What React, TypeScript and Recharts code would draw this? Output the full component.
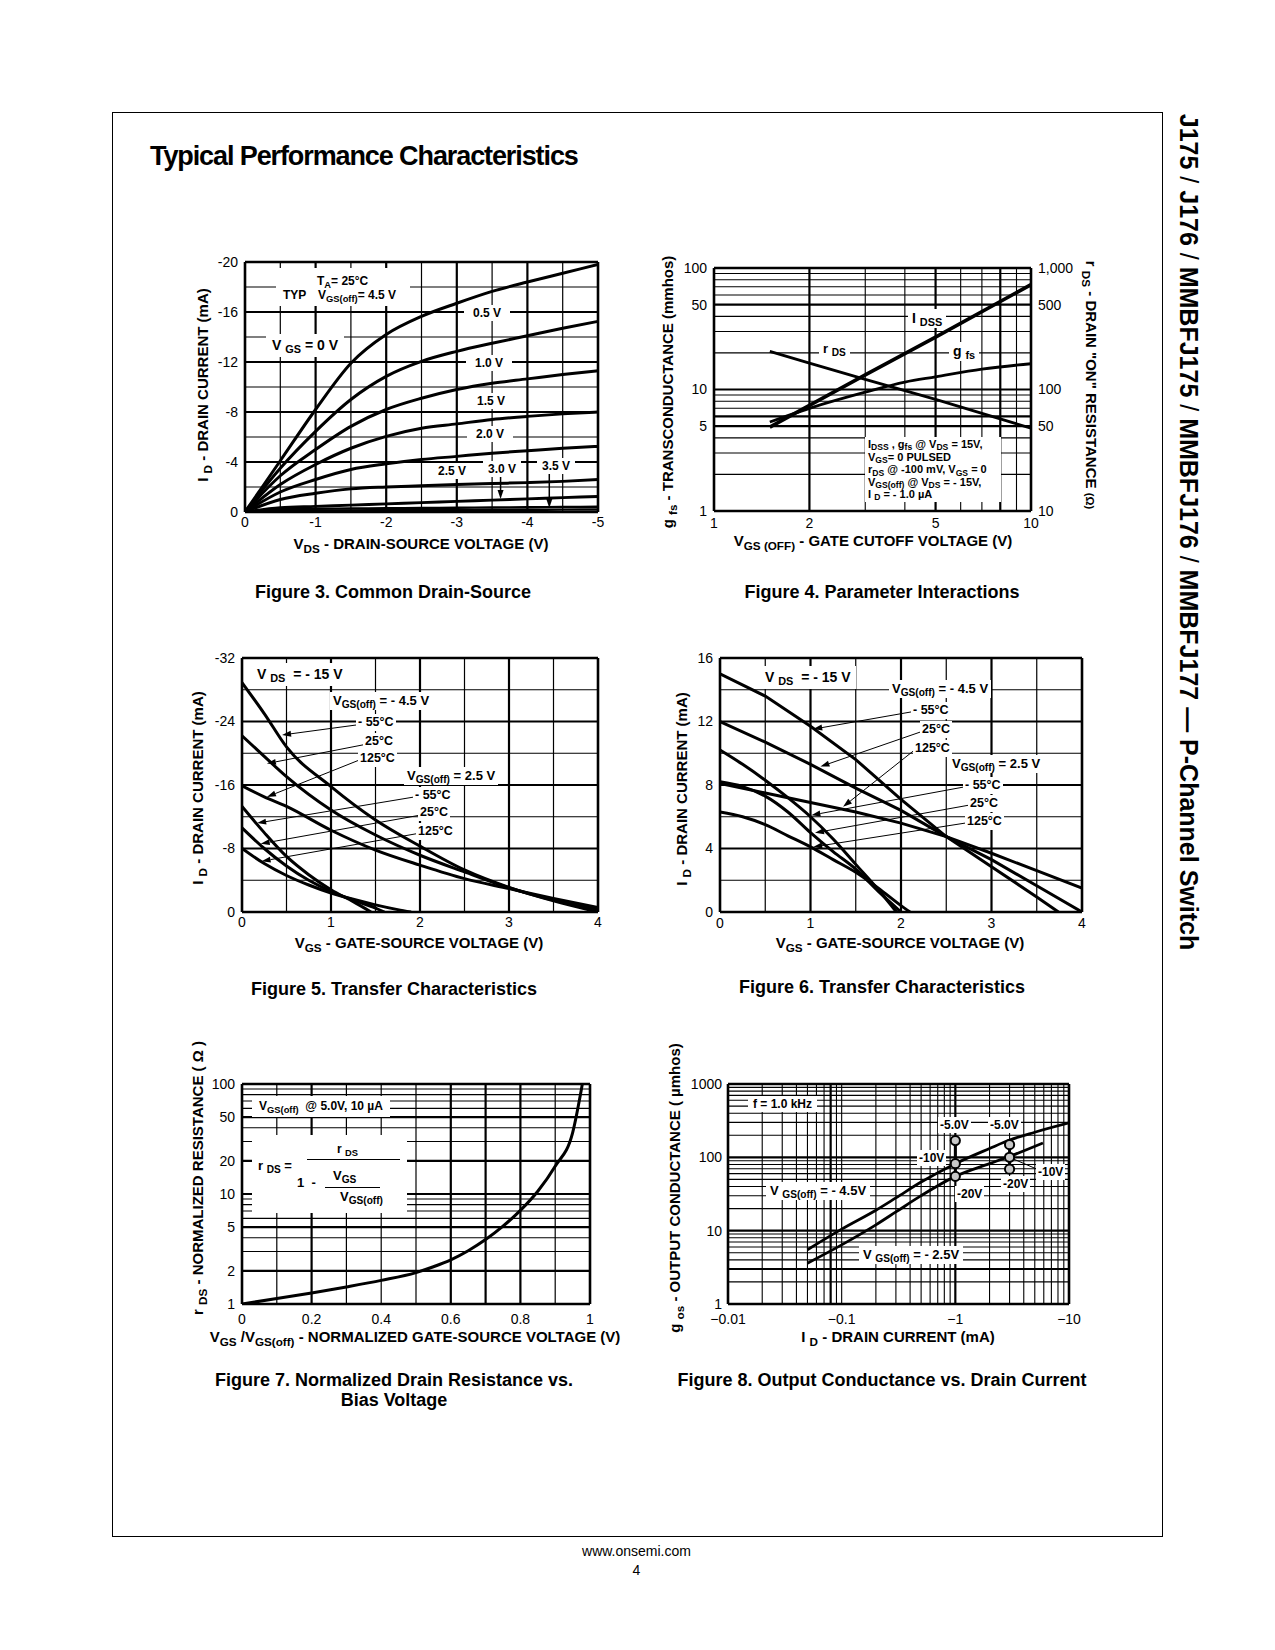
import React from 'react';
import { LineChart, Line, XAxis, YAxis, ReferenceLine } from 'recharts';

const FONT = '"Liberation Sans", Arial, Helvetica, sans-serif';

// Figure 3 - drain current vs drain-source voltage, one curve per V_GS
const f3Vds = [0, -0.5, -1, -1.5, -2, -2.5, -3, -3.5, -4, -4.5, -5];
const f3Vgs00 = [0, -4.1, -8.2, -11.9, -14.2, -15.65, -16.7, -17.65, -18.4, -19.1, -19.8];
const f3Vgs05 = [0, -3.5, -6.45, -9.0, -10.85, -12.05, -12.85, -13.5, -14.1, -14.7, -15.25];
const f3Vgs10 = [0, -2.9, -5.0, -6.85, -8.2, -9.1, -9.8, -10.3, -10.65, -11.0, -11.3];
const f3Vgs15 = [0, -2.2, -3.8, -5.1, -6.05, -6.7, -7.05, -7.4, -7.65, -7.85, -8.0];
const f3Vgs20 = [0, -1.6, -2.6, -3.4, -3.85, -4.2, -4.45, -4.7, -4.9, -5.1, -5.25];
const f3Vgs25 = [0, -1.0, -1.5, -1.85, -2.0, -2.1, -2.2, -2.28, -2.35, -2.45, -2.6];
const f3Vgs30 = [0, -0.35, -0.45, -0.55, -0.65, -0.75, -0.85, -0.95, -1.05, -1.15, -1.25];
const f3Vgs35 = [0, -0.22, -0.26, -0.28, -0.3, -0.32, -0.34, -0.36, -0.38, -0.4, -0.42];
const f3Vgs40 = [0, -0.1, -0.12, -0.13, -0.14, -0.15, -0.16, -0.17, -0.18, -0.19, -0.2];
const f3ArrowFrom = [[-3.62, -2.85], [-4.31, -3.25]];
const f3ArrowTo = [[-3.62, -1.04], [-4.31, -0.32]];

// Figure 4 - parameter interactions vs V_GS(off)
const f4VoffA = [1.5, 2, 3, 5, 10];
const f4Idss = [4.9, 7.4, 13.2, 27, 73];
const f4Rds = [206, 165, 121, 83, 48];
const f4VoffB = [1.5, 2, 3, 4, 5, 7, 10];
const f4Gfs = [5.4, 7.0, 9.5, 11.5, 12.7, 14.7, 16.3];

// Figure 5 - transfer characteristics (negative currents)
const f5XA = [0, 0.25, 0.5, 1, 1.5, 2, 2.5, 3, 3.5, 4];
const f5M55a = [-28.9, -25.0, -20.8, -15.8, -11.6, -8.3, -5.3, -3.1, -1.4, 0];
const f5P25a = [-22.2, -19.6, -17.05, -12.85, -9.7, -7.15, -5.05, -3.05, -1.5, -0.3];
const f5P125a = [-15.9, -14.5, -13.3, -10.3, -7.8, -5.9, -4.2, -2.95, -1.7, -0.55];
const f5XM55b = [0, 0.25, 0.5, 0.75, 1, 1.25, 1.45];
const f5M55b = [-13.3, -10.0, -7.0, -4.7, -2.8, -1.3, 0];
const f5XP25b = [0, 0.25, 0.5, 0.75, 1, 1.25, 1.5, 1.6];
const f5P25b = [-10.6, -8.0, -5.8, -4.0, -2.6, -1.5, -0.5, 0];
const f5XP125b = [0, 0.25, 0.5, 0.75, 1, 1.25, 1.5, 1.75, 1.9];
const f5P125b = [-8.0, -6.1, -4.6, -3.4, -2.4, -1.6, -0.9, -0.3, 0];
const f5ArrowFrom = [[1.31, -23.6], [1.38, -21.1], [1.33, -19.2], [1.94, -14.5], [2.0, -12.2], [1.98, -9.9]];
const f5ArrowTo = [[0.45, -22.3], [0.28, -18.7], [0.28, -14.5], [0.17, -11.2], [0.21, -8.6], [0.22, -6.4]];

// Figure 6 - transfer characteristics (positive currents)
const f6XM55a = [0, 0.5, 1, 1.5, 2, 2.5, 3, 3.5, 3.74];
const f6M55a = [15, 13.6, 11.7, 9.6, 7.1, 4.75, 2.85, 0.95, 0];
const f6XA = [0, 0.5, 1, 1.5, 2, 2.5, 3, 3.5, 4];
const f6P25a = [12, 10.7, 9.3, 7.8, 6.4, 4.75, 3.3, 1.65, 0];
const f6P125a = [8.1, 7.5, 6.9, 6.3, 5.6, 4.75, 3.7, 2.6, 1.5];
const f6XM55b = [0, 0.25, 0.5, 0.75, 1, 1.25, 1.5, 1.75, 1.95];
const f6M55b = [10.2, 9.3, 8.3, 7.2, 6.0, 4.6, 3.0, 1.4, 0];
const f6XP25b = [0, 0.25, 0.5, 0.75, 1, 1.25, 1.5, 1.75, 2.0];
const f6P25b = [8.2, 7.9, 7.3, 6.3, 5.0, 3.8, 2.7, 1.3, 0];
const f6XP125b = [0, 0.25, 0.5, 0.75, 1, 1.25, 1.5, 1.75, 2.0, 2.1];
const f6P125b = [6.3, 6.0, 5.5, 4.8, 4.1, 3.3, 2.5, 1.5, 0.4, 0];
const f6ArrowFrom = [[2.14, 12.63], [2.23, 11.37], [2.16, 10.25], [2.71, 7.89], [2.76, 6.74], [2.73, 5.62]];
const f6ArrowTo = [[1.03, 11.52], [1.11, 9.16], [1.36, 6.63], [1.01, 6.1], [1.05, 4.99], [1.03, 4.1]];

// Figure 7 - normalized drain resistance
const f7Ratio = [0, 0.1, 0.2, 0.3, 0.4, 0.5, 0.55, 0.6, 0.65, 0.7, 0.75, 0.8, 0.85, 0.9, 0.95, 0.978];
const f7Rds = [1, 1.12, 1.26, 1.43, 1.64, 1.93, 2.18, 2.52, 3.05, 3.85, 5.1, 7.1, 10.6, 17.9, 36, 100];

// Figure 8 - output conductance vs drain current (magnitudes, mA)
const f8IdA = [0.05, 0.1, 0.2, 0.3, 0.5, 1, 2, 3, 5, 10];
const f8Gos45 = [5.5, 10.5, 19, 28, 46, 82, 132, 172, 220, 295];
const f8IdB = [0.05, 0.1, 0.2, 0.3, 0.5, 1, 2, 3, 5.9];
const f8Gos25 = [3.6, 6.4, 12, 18, 30, 55, 82, 103, 157];
const f8MarkAt1 = [169, 82, 55];
const f8MarkAt3 = [149, 100, 69];
const f8Leader = [[3, 100], [5.34, 68]];

const pts = (xs: number[], ys: number[]) => xs.map((x, i) => ({ x, y: ys[i] }));

const tick = { fontSize: 14, fill: '#000', fontFamily: FONT };
const PL = 50, PT = 12, PR = 50, PB = 30;

type Box = { x0: number; y0: number; x1: number; y1: number };
const b3: Box = { x0: 245, y0: 262, x1: 598, y1: 512 };
const b4: Box = { x0: 714, y0: 268, x1: 1031, y1: 511 };
const b5: Box = { x0: 242, y0: 658, x1: 598, y1: 912 };
const b6: Box = { x0: 720, y0: 658, x1: 1082, y1: 912 };
const b7: Box = { x0: 242, y0: 1084, x1: 590, y1: 1304 };
const b8: Box = { x0: 728, y0: 1084, x1: 1069, y1: 1304 };

function Frame({ b, right = false, children }: { b: Box; right?: boolean; children: React.ReactNode }) {
  return (
    <div style={{ position: 'absolute', left: b.x0 - PL, top: b.y0 - PT }}>
      <LineChart
        width={b.x1 - b.x0 + PL + PR}
        height={b.y1 - b.y0 + PT + PB}
        margin={{ top: PT, right: right ? 0 : PR, bottom: 0, left: 0 }}
      >
        {children}
      </LineChart>
    </div>
  );
}

const vLines = (vals: number[], w: number) =>
  vals.map(v => <ReferenceLine key={`gx${v}`} x={v} stroke="#000" strokeWidth={w} />);
const hLines = (vals: number[], w: number) =>
  vals.map(v => <ReferenceLine key={`gy${v}`} y={v} stroke="#000" strokeWidth={w} />);

function arrowShape(p: any) {
  const { x1, y1, x2, y2 } = p;
  if ([x1, y1, x2, y2].some(v => typeof v !== 'number')) return <g />;
  const a = Math.atan2(y2 - y1, x2 - x1);
  const len = 9, half = 3;
  const bx = x2 - len * Math.cos(a), by = y2 - len * Math.sin(a);
  const nx = -Math.sin(a) * half, ny = Math.cos(a) * half;
  return (
    <g>
      <line x1={x1} y1={y1} x2={bx} y2={by} stroke="#000" strokeWidth={p.strokeWidth || 1} />
      <polygon points={`${x2},${y2} ${bx + nx},${by + ny} ${bx - nx},${by - ny}`} fill="#000" />
    </g>
  );
}

const arrows = (from: number[][], to: number[][], w: number) =>
  from.map((f, i) => (
    <ReferenceLine
      key={`ar${i}`}
      segment={[{ x: f[0], y: f[1] }, { x: to[i][0], y: to[i][1] }]}
      stroke="#000"
      strokeWidth={w}
      shape={arrowShape}
    />
  ));

const curve = (key: string, xs: number[], ys: number[], w = 2.8, type: any = 'monotone', yAxisId: any = 0) => (
  <Line
    key={key}
    data={pts(xs, ys)}
    dataKey="y"
    yAxisId={yAxisId}
    type={type}
    stroke="#000"
    strokeWidth={w}
    dot={false}
    isAnimationActive={false}
  />
);

const S = ({ children }: { children: React.ReactNode }) => (
  <span style={{ fontSize: '0.78em', position: 'relative', top: '0.3em' }}>{children}</span>
);

type LProps = {
  x: number; y: number; s?: number; w?: number; box?: boolean; px?: number; py?: number;
  mid?: boolean; ls?: number; children: React.ReactNode;
};
function L({ x, y, s = 12, w = 700, box = false, px = 4, py = 2, mid = false, ls = 0, children }: LProps) {
  const padX = box ? px : 0;
  const padY = box ? py : 0;
  return (
    <div
      style={{
        position: 'absolute',
        left: mid ? x : x - padX,
        top: y - 0.8465 * s - padY,
        transform: mid ? 'translateX(-50%)' : undefined,
        fontSize: s,
        lineHeight: `${s}px`,
        fontWeight: w,
        letterSpacing: ls,
        whiteSpace: 'nowrap',
        background: box ? '#fff' : undefined,
        padding: `${padY}px ${padX}px`,
      }}
    >
      {children}
    </div>
  );
}

function VT({ x, y, s = 15, rot = -90, children }: { x: number; y: number; s?: number; rot?: number; children: React.ReactNode }) {
  return (
    <div
      style={{
        position: 'absolute', left: x, top: y, fontSize: s, lineHeight: `${s}px`, fontWeight: 700,
        whiteSpace: 'nowrap', transform: `translate(-50%, -50%) rotate(${rot}deg)`,
      }}
    >
      {children}
    </div>
  );
}

const WhiteBox = ({ x, y, w, h }: { x: number; y: number; w: number; h: number }) => (
  <div style={{ position: 'absolute', left: x, top: y, width: w, height: h, background: '#fff' }} />
);

function Fig3() {
  return (
    <>
      <Frame b={b3}>
        <XAxis type="number" dataKey="x" domain={[-5, 0]} reversed ticks={[0, -1, -2, -3, -4, -5]} interval={0}
          axisLine={false} tickLine={false} tickSize={0} tickMargin={5} height={PB} tick={tick} allowDataOverflow />
        <YAxis type="number" domain={[-20, 0]} reversed ticks={[-20, -16, -12, -8, -4, 0]} interval={0}
          axisLine={false} tickLine={false} tickSize={0} tickMargin={7} width={PL} tick={tick} allowDataOverflow />
        {vLines([-0.5, -1.5, -2.5, -3.5, -4.5], 1.2)}
        {vLines([-1, -2, -3, -4], 2.2)}
        {hLines([-2, -6, -10, -14, -18], 1.2)}
        {hLines([-4, -8, -12, -16], 2.2)}
        {vLines([0, -5], 2.6)}
        {hLines([0, -20], 2.6)}
        {curve('g00', f3Vds, f3Vgs00, 3)}
        {curve('g05', f3Vds, f3Vgs05, 3)}
        {curve('g10', f3Vds, f3Vgs10, 3)}
        {curve('g15', f3Vds, f3Vgs15, 3)}
        {curve('g20', f3Vds, f3Vgs20, 3)}
        {curve('g25', f3Vds, f3Vgs25, 3)}
        {curve('g30', f3Vds, f3Vgs30, 3)}
        {curve('g35', f3Vds, f3Vgs35, 2.4)}
        {curve('g40', f3Vds, f3Vgs40, 2.4)}
        {arrows(f3ArrowFrom, f3ArrowTo, 1.5)}
      </Frame>
      <WhiteBox x={276} y={268} w={134} h={38} />
      <L x={317} y={285}>T<S>A</S>= 25°C</L>
      <L x={283} y={299}>TYP</L>
      <L x={318} y={299}>V<S>GS(off)</S>= 4.5 V</L>
      <L x={272} y={350} s={14} box px={6} py={4}>V <S>GS</S> = 0 V</L>
      <L x={473} y={316.7} box px={9}>0.5 V</L>
      <L x={475} y={366.7} box px={9}>1.0 V</L>
      <L x={477} y={405} box px={9}>1.5 V</L>
      <L x={476} y={438} box px={9}>2.0 V</L>
      <L x={438} y={475.6} box px={5}>2.5 V</L>
      <L x={488} y={472.7} box px={5}>3.0 V</L>
      <L x={542} y={470} box px={5}>3.5 V</L>
      <L x={421} y={549} s={15} mid>V<S>DS</S> - DRAIN-SOURCE VOLTAGE (V)</L>
      <VT x={203} y={385}>I <S>D</S> - DRAIN CURRENT (mA)</VT>
      <L x={393} y={598} s={18} mid>Figure 3. Common Drain-Source</L>
    </>
  );
}

function Fig4() {
  return (
    <>
      <Frame b={b4} right>
        <XAxis type="number" dataKey="x" scale="log" domain={[1, 10]} ticks={[1, 2, 5, 10]} interval={0}
          axisLine={false} tickLine={false} tickSize={0} tickMargin={7} height={PB} tick={tick} allowDataOverflow />
        <YAxis type="number" scale="log" domain={[1, 100]} ticks={[1, 5, 10, 50, 100]} interval={0}
          axisLine={false} tickLine={false} tickSize={0} tickMargin={7} width={PL} tick={tick} allowDataOverflow />
        <YAxis yAxisId="r" orientation="right" type="number" scale="log" domain={[10, 1000]}
          ticks={[10, 50, 100, 500, 1000]} interval={0} tickFormatter={(v: number) => (v === 1000 ? '1,000' : String(v))}
          axisLine={false} tickLine={false} tickSize={0} tickMargin={7} width={PR} tick={tick} allowDataOverflow />
        {vLines([3, 4, 6, 7, 9], 1.1)}
        {vLines([2, 5, 8], 2.2)}
        {hLines([2, 3, 4, 7, 8, 9, 20, 30, 40, 60, 70, 80, 90], 1.1)}
        {hLines([5, 6, 10, 50], 2.2)}
        {vLines([1, 10], 2.6)}
        {hLines([1, 100], 2.6)}
        {curve('idss', f4VoffA, f4Idss, 3.6, 'linear')}
        {curve('gfs', f4VoffB, f4Gfs, 2.8, 'monotone')}
        {curve('rds', f4VoffA, f4Rds, 2.8, 'linear', 'r')}
      </Frame>
      <L x={912} y={323} s={14} box px={4}>I <S>DSS</S></L>
      <L x={823} y={353} s={13} box px={4}>r <S>DS</S></L>
      <L x={953} y={356} s={14} box px={4}>g <S>fs</S></L>
      <WhiteBox x={865} y={437} w={136} h={65} />
      <L x={868} y={448} s={11}>I<S>DSS</S> , g<S>fs</S> @ V<S>DS</S> = 15V,</L>
      <L x={868} y={461} s={11}>V<S>GS</S>= 0 PULSED</L>
      <L x={868} y={473.7} s={11}>r<S>DS</S> @ -100 mV, V<S>GS</S> = 0</L>
      <L x={868} y={486} s={11}>V<S>GS(off)</S> @ V<S>DS</S> = - 15V,</L>
      <L x={868} y={498} s={11}>I <S>D</S> = - 1.0 µA</L>
      <L x={873} y={546} s={15} mid>V<S>GS (OFF)</S> - GATE CUTOFF VOLTAGE (V)</L>
      <VT x={668} y={392}>g <S>fs</S> - TRANSCONDUCTANCE (mmhos)</VT>
      <VT x={1090} y={385} rot={90}>r <S>DS</S> - DRAIN "ON" RESISTANCE <span style={{ fontSize: '0.75em' }}>(Ω)</span></VT>
      <L x={882} y={598} s={18} mid>Figure 4. Parameter Interactions</L>
    </>
  );
}

function Fig5() {
  return (
    <>
      <Frame b={b5}>
        <XAxis type="number" dataKey="x" domain={[0, 4]} ticks={[0, 1, 2, 3, 4]} interval={0}
          axisLine={false} tickLine={false} tickSize={0} tickMargin={5} height={PB} tick={tick} allowDataOverflow />
        <YAxis type="number" domain={[-32, 0]} reversed ticks={[-32, -24, -16, -8, 0]} interval={0}
          axisLine={false} tickLine={false} tickSize={0} tickMargin={7} width={PL} tick={tick} allowDataOverflow />
        {vLines([0.5, 1.5, 2.5, 3.5], 1.2)}
        {vLines([1, 2, 3], 2.2)}
        {hLines([-4, -12, -20, -28], 1.2)}
        {hLines([-8, -16, -24], 2.2)}
        {vLines([0, 4], 2.6)}
        {hLines([0, -32], 2.6)}
        {curve('a1', f5XA, f5M55a, 3)}
        {curve('a2', f5XA, f5P25a, 3)}
        {curve('a3', f5XA, f5P125a, 3)}
        {curve('b1', f5XM55b, f5M55b, 3)}
        {curve('b2', f5XP25b, f5P25b, 3)}
        {curve('b3', f5XP125b, f5P125b, 3)}
        {arrows(f5ArrowFrom, f5ArrowTo, 1)}
      </Frame>
      <L x={257} y={679} s={14} box px={5} py={4}>V <S>DS</S>&nbsp; = - 15 V</L>
      <L x={333} y={705} s={13} box px={3}>V<S>GS(off)</S> = - 4.5 V</L>
      <L x={358} y={726.7} s={12.5} box px={2}>- 55°C</L>
      <L x={365} y={746} s={12.5} box px={2}>25°C</L>
      <L x={360} y={763} s={12.5} box px={2}>125°C</L>
      <L x={407} y={780} s={13} box px={3}>V<S>GS(off)</S> = 2.5 V</L>
      <L x={415} y={800} s={12.5} box px={2}>- 55°C</L>
      <L x={420} y={817} s={12.5} box px={2}>25°C</L>
      <L x={418} y={836} s={12.5} box px={2}>125°C</L>
      <L x={419} y={947.7} s={15} mid>V<S>GS</S> - GATE-SOURCE VOLTAGE (V)</L>
      <VT x={198} y={788}>I <S>D</S> - DRAIN CURRENT (mA)</VT>
      <L x={394} y={995} s={18} mid>Figure 5. Transfer Characteristics</L>
    </>
  );
}

function Fig6() {
  return (
    <>
      <Frame b={b6}>
        <XAxis type="number" dataKey="x" domain={[0, 4]} ticks={[0, 1, 2, 3, 4]} interval={0}
          axisLine={false} tickLine={false} tickSize={0} tickMargin={6} height={PB} tick={tick} allowDataOverflow />
        <YAxis type="number" domain={[0, 16]} ticks={[0, 4, 8, 12, 16]} interval={0}
          axisLine={false} tickLine={false} tickSize={0} tickMargin={7} width={PL} tick={tick} allowDataOverflow />
        {vLines([0.5, 1.5, 2.5, 3.5], 1.2)}
        {vLines([1, 2, 3], 2.2)}
        {hLines([2, 6, 10, 14], 1.2)}
        {hLines([4, 8, 12], 2.2)}
        {vLines([0, 4], 2.6)}
        {hLines([0, 16], 2.6)}
        {curve('a1', f6XM55a, f6M55a, 3, 'linear')}
        {curve('a2', f6XA, f6P25a, 3, 'linear')}
        {curve('a3', f6XA, f6P125a, 3, 'linear')}
        {curve('b1', f6XM55b, f6M55b, 3)}
        {curve('b2', f6XP25b, f6P25b, 3)}
        {curve('b3', f6XP125b, f6P125b, 3)}
        {arrows(f6ArrowFrom, f6ArrowTo, 1)}
      </Frame>
      <L x={765} y={681.7} s={14} box px={5} py={4}>V <S>DS</S>&nbsp; = - 15 V</L>
      <L x={892} y={692.7} s={13} box px={3}>V<S>GS(off)</S> = - 4.5 V</L>
      <L x={913} y={715} s={12.5} box px={2}>- 55°C</L>
      <L x={922} y={734} s={12.5} box px={2}>25°C</L>
      <L x={915} y={752.7} s={12.5} box px={2}>125°C</L>
      <L x={952} y={768} s={13} box px={3}>V<S>GS(off)</S> = 2.5 V</L>
      <L x={965} y={790} s={12.5} box px={2}>- 55°C</L>
      <L x={970} y={807.7} s={12.5} box px={2}>25°C</L>
      <L x={967} y={825.7} s={12.5} box px={2}>125°C</L>
      <L x={900} y={947.7} s={15} mid>V<S>GS</S> - GATE-SOURCE VOLTAGE (V)</L>
      <VT x={682} y={789}>I <S>D</S> - DRAIN CURRENT (mA)</VT>
      <L x={882} y={993} s={18} mid>Figure 6. Transfer Characteristics</L>
    </>
  );
}

function Fig7() {
  return (
    <>
      <Frame b={b7}>
        <XAxis type="number" dataKey="x" domain={[0, 1]} ticks={[0, 0.2, 0.4, 0.6, 0.8, 1]} interval={0}
          axisLine={false} tickLine={false} tickSize={0} tickMargin={10} height={PB} tick={tick} allowDataOverflow />
        <YAxis type="number" scale="log" domain={[1, 100]} ticks={[1, 2, 5, 10, 20, 50, 100]} interval={0}
          axisLine={false} tickLine={false} tickSize={0} tickMargin={7} width={PL} tick={tick} allowDataOverflow />
        {vLines([0.1, 0.3, 0.4, 0.5, 0.9], 1.2)}
        {vLines([0.2, 0.6, 0.7, 0.8], 2.2)}
        {hLines([3, 4, 6, 7, 8, 9, 30, 40, 60, 70, 80, 90], 1.1)}
        {hLines([2, 5, 10, 20, 50], 2.2)}
        {vLines([0, 1], 2.6)}
        {hLines([1, 100], 2.6)}
        {curve('rn', f7Ratio, f7Rds, 3)}
      </Frame>
      <L x={259} y={1110} s={12} box px={7} py={4}>V<S>GS(off)</S>&nbsp; @ 5.0V, 10 µA</L>
      <WhiteBox x={252} y={1135} w={155} h={78} />
      <L x={258} y={1170} s={13}>r <S>DS</S> =</L>
      <L x={337} y={1153} s={12}>r <S>DS</S></L>
      <div style={{ position: 'absolute', left: 307, top: 1159, width: 93, height: 1.3, background: '#000' }} />
      <L x={297} y={1187} s={13}>1&nbsp; -</L>
      <L x={333} y={1180} s={13}>V<S>GS</S></L>
      <div style={{ position: 'absolute', left: 325, top: 1187, width: 55, height: 1.3, background: '#000' }} />
      <L x={340} y={1201} s={13}>V<S>GS(off)</S></L>
      <L x={415} y={1342} s={15} mid>V<S>GS</S> /V<S>GS(off)</S> - NORMALIZED GATE-SOURCE VOLTAGE (V)</L>
      <VT x={198} y={1178}>r <S>DS</S> - NORMALIZED RESISTANCE ( Ω )</VT>
      <L x={394} y={1386} s={18} mid>Figure 7. Normalized Drain Resistance vs.</L>
      <L x={394} y={1406} s={18} mid>Bias Voltage</L>
    </>
  );
}

const ring = (p: any) => (
  <circle key={`r${p.index}-${p.cx}`} cx={p.cx} cy={p.cy} r={4.6} fill="#c8c8c8" stroke="#000" strokeWidth={2} />
);

function Fig8() {
  const decade = [2, 3, 4, 5, 6, 7, 8, 9];
  return (
    <>
      <Frame b={b8}>
        <XAxis type="number" dataKey="x" scale="log" domain={[0.01, 10]} ticks={[0.01, 0.1, 1, 10]} interval={0}
          tickFormatter={(v: number) => '\u2212' + v}
          axisLine={false} tickLine={false} tickSize={0} tickMargin={10} height={PB} tick={tick} allowDataOverflow />
        <YAxis type="number" scale="log" domain={[1, 1000]} ticks={[1, 10, 100, 1000]} interval={0}
          axisLine={false} tickLine={false} tickSize={0} tickMargin={6} width={PL} tick={tick} allowDataOverflow />
        {vLines([...decade.map(d => d / 100).filter(v => v !== 0.08), 0.1, ...decade.map(d => d / 10), ...decade], 1.1)}
        {vLines([0.08, 1], 2.2)}
        {hLines([2, 4, 5, 6, 7, 8, 9, ...decade.map(d => d * 10), ...decade.map(d => d * 100)], 1.1)}
        {hLines([3, 10, 100], 2.2)}
        {vLines([0.01, 10], 2.6)}
        {hLines([1, 1000], 2.6)}
        {curve('u', f8IdA, f8Gos45, 2.8)}
        {curve('l', f8IdB, f8Gos25, 2.8)}
        <ReferenceLine
          segment={[{ x: f8Leader[0][0], y: f8Leader[0][1] }, { x: f8Leader[1][0], y: f8Leader[1][1] }]}
          stroke="#000" strokeWidth={1}
        />
        <Line data={f8MarkAt1.map(y => ({ x: 1, y }))} dataKey="y" type="linear" stroke="#000" strokeWidth={3}
          dot={ring} isAnimationActive={false} />
        <Line data={f8MarkAt3.map(y => ({ x: 3, y }))} dataKey="y" type="linear" stroke="#000" strokeWidth={3}
          dot={ring} isAnimationActive={false} />
      </Frame>
      <L x={753} y={1107.7} box px={5}>f = 1.0 kHz</L>
      <L x={940} y={1129} box px={2}>-5.0V</L>
      <L x={990} y={1129} box px={2}>-5.0V</L>
      <L x={919} y={1161.7} box px={2}>-10V</L>
      <L x={957} y={1197.7} box px={2}>-20V</L>
      <L x={1038} y={1175.7} box px={2}>-10V</L>
      <L x={1003} y={1188.3} box px={2}>-20V</L>
      <L x={770} y={1195} s={13} box px={4}>V <S>GS(off)</S> = - 4.5V</L>
      <L x={863} y={1259} s={13} box px={4}>V <S>GS(off)</S> = - 2.5V</L>
      <L x={898} y={1342} s={15} mid>I <S>D</S> - DRAIN CURRENT (mA)</L>
      <VT x={675} y={1188}>g <S>os</S> - OUTPUT CONDUCTANCE ( µmhos)</VT>
      <L x={882} y={1386} s={18} mid>Figure 8. Output Conductance vs. Drain Current</L>
    </>
  );
}

export default function App() {
  return (
    <div
      style={{
        position: 'absolute', left: 0, top: 0, width: 1275, height: 1650, background: '#fff',
        fontFamily: FONT, color: '#000', overflow: 'hidden',
      }}
    >
      <div style={{ position: 'absolute', left: 112, top: 112, width: 1051, height: 1425, border: '1.3px solid #000', boxSizing: 'border-box' }} />
      <L x={150} y={166} s={27} ls={-1.1}>Typical Performance Characteristics</L>
      <VT x={1187.5} y={531.5} s={25} rot={90}>
        J175 <span style={{ fontWeight: 400 }}>/</span> J176 <span style={{ fontWeight: 400 }}>/</span> MMBFJ175{' '}
        <span style={{ fontWeight: 400 }}>/</span> MMBFJ176 <span style={{ fontWeight: 400 }}>/</span> MMBFJ177 — P-Channel Switch
      </VT>
      <Fig3 />
      <Fig4 />
      <Fig5 />
      <Fig6 />
      <Fig7 />
      <Fig8 />
      <L x={636.5} y={1556} s={14} w={400} mid>www.onsemi.com</L>
      <L x={636.5} y={1575} s={14} w={400} mid>4</L>
    </div>
  );
}
